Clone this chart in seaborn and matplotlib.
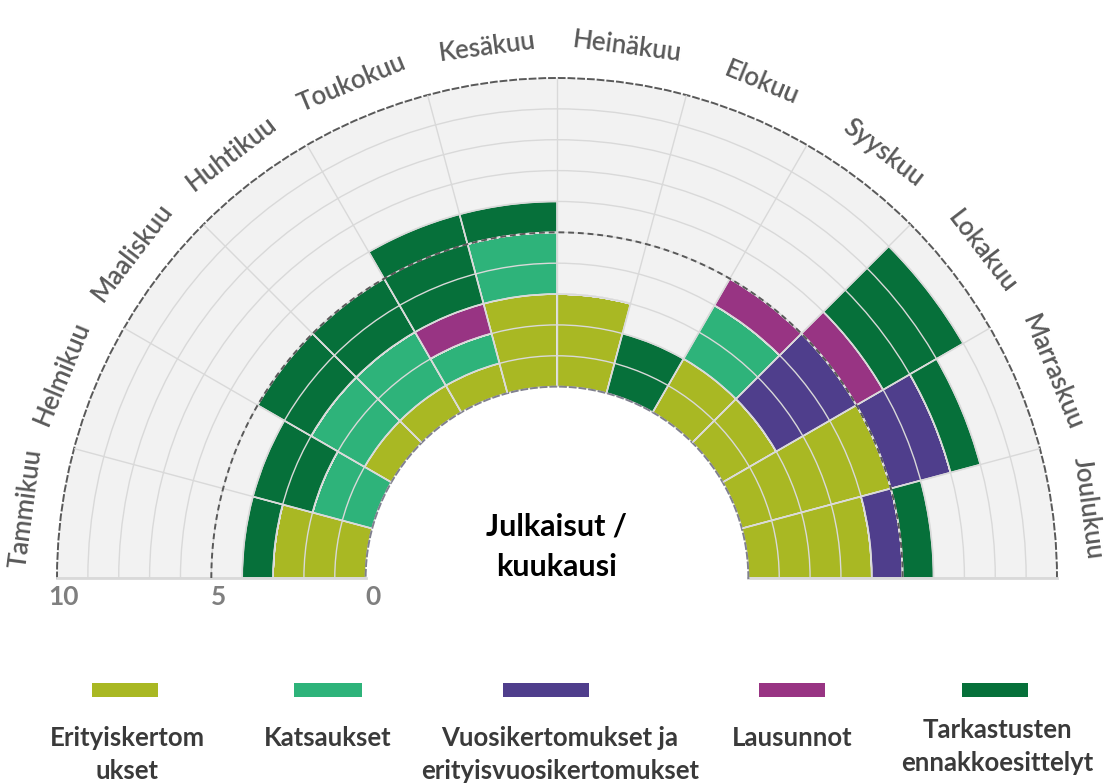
# julkaisut_kuukausittain.py
import numpy as np
import matplotlib.pyplot as plt
import seaborn as sns
from matplotlib.patches import Rectangle

sns.set_theme(style="white")
plt.rcParams['font.family'] = ['Lato', 'DejaVu Sans']

# Data (luettu kuvasta)
kuukaudet = ['Tammikuu', 'Helmikuu', 'Maaliskuu', 'Huhtikuu', 'Toukokuu', 'Kesäkuu',
             'Heinäkuu', 'Elokuu', 'Syyskuu', 'Lokakuu', 'Marraskuu', 'Joulukuu']
sarjat = ['Erityiskertom\nukset', 'Katsaukset', 'Vuosikertomukset ja\nerityisvuosikertomukset',
          'Lausunnot', 'Tarkastusten\nennakkoesittelyt']
erityiskertomukset = [3, 0, 1, 1, 1, 3, 3, 0, 2, 2, 5, 4]
katsaukset = [0, 2, 2, 2, 1, 2, 0, 0, 2, 0, 0, 0]
vuosikertomukset = [0, 0, 0, 0, 0, 0, 0, 0, 0, 3, 2, 1]
lausunnot = [0, 0, 0, 0, 1, 0, 0, 0, 1, 1, 0, 0]
ennakkoesittelyt = [1, 2, 2, 2, 3, 1, 0, 2, 0, 3, 1, 1]
akselin_arvot = [10, 5, 0]

varit = sns.color_palette(['#a9b823', '#2eb37a', '#4f3e8c', '#983483', '#06703a'])

fig = plt.figure(figsize=(11.12, 7.83), dpi=100)
# puoliympyrä: keskipiste (557, 578) px, säde 500 px
ax = fig.add_axes([57 / 1112, -45 / 783, 1000 / 1112, 1000 / 783], projection='polar')
ax.set_theta_zero_location('W')
ax.set_theta_direction(-1)
ax.set_thetamin(0)
ax.set_thetamax(180)
ax.set_rorigin(-6.2)
ax.set_ylim(0, 10)
ax.set_facecolor('#f2f2f2')

theta = np.deg2rad(7.5 + 15 * np.arange(len(kuukaudet)))
leveys = np.deg2rad(15)
pohja = np.zeros(len(kuukaudet))
for arvot, vari in zip([erityiskertomukset, katsaukset, vuosikertomukset, lausunnot, ennakkoesittelyt], varit):
    arvot = np.array(arvot, dtype=float)
    ax.bar(theta, arvot, width=leveys, bottom=pohja, color=vari,
           edgecolor='#e6e6e6', linewidth=1.2, zorder=2)
    pohja += arvot

# ruudukko
ax.set_axisbelow(False)
ax.set_xticks(np.deg2rad(np.arange(0, 181, 15)))
ax.set_yticks(np.arange(1, 10))
ax.set_xticklabels([])
ax.set_yticklabels([])
ax.grid(True, color='#d9d9d9', linewidth=1.0)

ax.spines['polar'].set(linestyle=(0, (3, 2)), color='#595959', linewidth=1.4)
ax.spines['inner'].set(linestyle=(0, (3, 2)), color='#80808f', linewidth=1.4)
ax.spines['start'].set(color='#d9d9d9', linewidth=2)
ax.spines['end'].set(color='#d9d9d9', linewidth=2)

t = np.linspace(0, np.pi, 300)
ax.plot(t, np.full_like(t, 5), color='#595959', linestyle=(0, (3, 2)), linewidth=1.4, zorder=3)

# kuukausien nimet
for i, nimi in enumerate(kuukaudet):
    kulma = 180 - np.rad2deg(theta[i])
    ax.text(theta[i], 11.15, nimi, rotation=kulma - 90, rotation_mode='anchor',
            ha='center', va='center', fontsize=18.5, fontweight='semibold', color='#595959')

# asteikon arvot
for arvo in akselin_arvot:
    ax.annotate(str(arvo), xy=(0, arvo), xytext=(5, -5), textcoords='offset points',
                ha='center', va='top', fontsize=19, fontweight='bold', color='#7f7f7f',
                annotation_clip=False)

fig.text(557 / 1112, 1 - 547 / 783, 'Julkaisut /\nkuukausi', ha='center', va='center',
         fontsize=22, fontweight='bold', color='black', linespacing=1.55)

# selite
selite_x = [125, 328, 546, 792, 995]
selite_w = [66, 68, 86, 66, 66]
teksti_x = [127, 328, 560, 792, 997]
teksti_y = [726, 726, 726, 726, 718]
for i, nimi in enumerate(sarjat):
    fig.add_artist(Rectangle(((selite_x[i] - selite_w[i] / 2) / 1112, 1 - 697 / 783),
                             selite_w[i] / 1112, 14 / 783, transform=fig.transFigure,
                             facecolor=varit[i], edgecolor='none'))
    fig.text(teksti_x[i] / 1112, 1 - teksti_y[i] / 783, nimi, ha='center', va='top',
             fontsize=18.5, fontweight='bold', color='#3a3a3a', linespacing=1.45)

fig.savefig('out.png', dpi=100, facecolor='white')
